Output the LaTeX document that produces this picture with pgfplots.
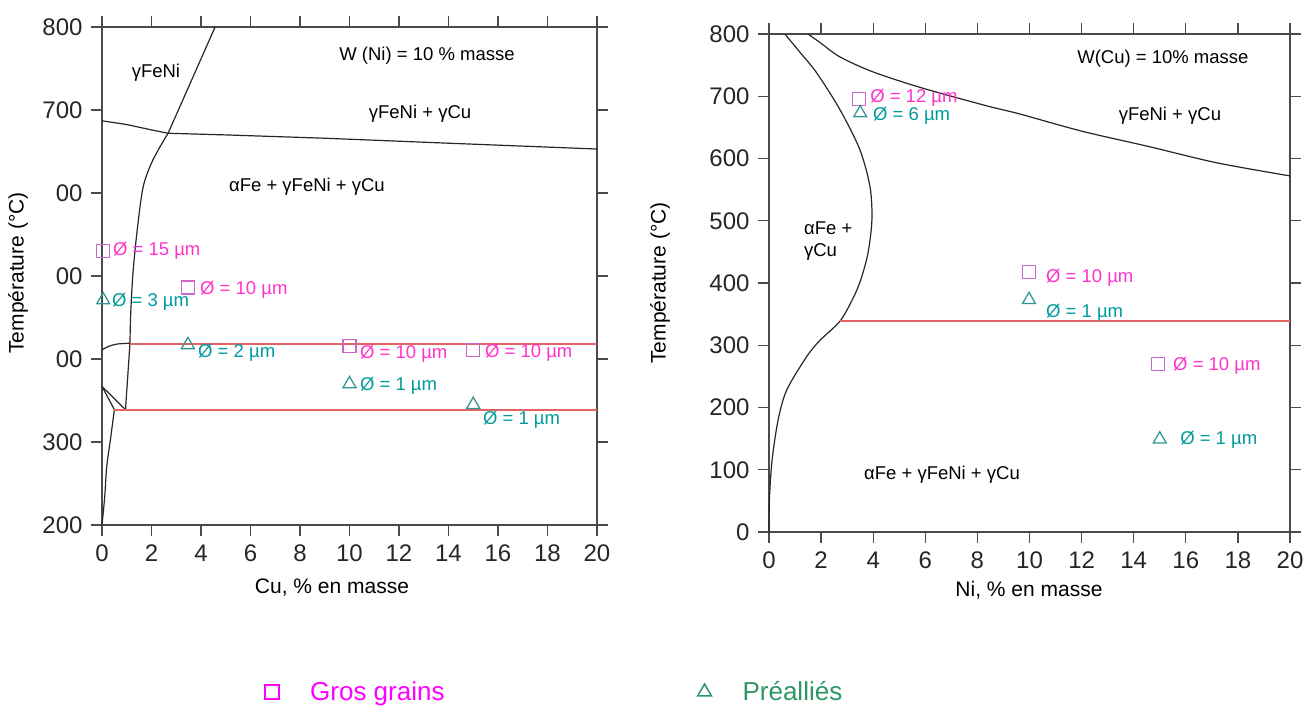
\documentclass[border=0pt]{standalone}
\usepackage{fontspec}
\setmainfont{Liberation Sans}
\usepackage{pgfplots}
\pgfplotsset{compat=1.18}
\definecolor{magtext}{RGB}{255,51,204}
\definecolor{tealtext}{RGB}{0,155,155}
\definecolor{sqmark}{RGB}{204,102,204}
\definecolor{trimark}{RGB}{51,150,150}
\definecolor{legmag}{RGB}{255,0,255}
\definecolor{leggreen}{RGB}{46,150,100}
\definecolor{redline}{RGB}{228,100,100}
\definecolor{axiscol}{RGB}{75,75,75}
\newcommand{\ann}{\fontsize{18.5}{22}\selectfont}
\pgfplotsset{
  mystyle/.style={
    scale only axis,
    axis line style={draw=axiscol, line width=1.3pt},
    every tick/.style={draw=axiscol, line width=1.3pt},
    tick align=outside,
    major tick length=11pt,
    tick pos=both,
    xticklabel pos=lower, yticklabel pos=left,
    tick label style={font=\fontsize{24}{28}\selectfont, text=black!85},
    yticklabel style={xshift=-5pt},
    xticklabel style={yshift=-5pt},
    label style={font=\fontsize{21}{25}\selectfont},
    /pgf/number format/assume math mode=true,
    clip=false,
    xmin=0, xmax=20, xtick={0,2,...,20},
  },
  bnd/.style={black!85, line width=1.2pt, forget plot},
  red/.style={redline, line width=2pt, forget plot},
  sq/.style={only marks, mark=square, mark size=6.5pt, color=sqmark, line width=1.3pt, forget plot},
  tri/.style={only marks, mark=triangle, mark size=7.5pt, color=trimark, line width=1.3pt, forget plot},
}
\begin{document}
\begin{tikzpicture}
\useasboundingbox (0,0) rectangle (1315pt,-707pt);
% ---------------- left axis ----------------
\begin{axis}[mystyle,
  at={(102pt,-525pt)}, anchor=south west,
  width=495pt, height=498pt,
  ymin=200, ymax=800, ytick={200,300,...,800},
  yticklabels={200,300,00,00,00,700,800},
  xlabel={Cu, \% en masse},
  ylabel={Température (°C)},
  xlabel style={at={(axis description cs:0.4646,-0.1265)}, anchor=center},
  ylabel style={at={(axis description cs:-0.1697,0.506)}, anchor=center},
  legend style={at={(axis description cs:0.3293,-0.3353)}, anchor=west,
    draw=none, fill=none, inner sep=0pt, legend columns=2,
    font=\fontsize{26}{30}\selectfont,
    nodes={inner sep=0pt},
    /tikz/every odd column/.append style={column sep=31pt},
    /tikz/every even column/.append style={column sep=253pt}},
  legend image code/.code={\path[draw=none, fill=none] (0pt,-7pt) rectangle (14pt,7pt);
    \draw[#1] plot coordinates {(7pt,0pt)};},
]
\addplot[bnd] coordinates {(0,687)(1,682.5)(2,676)(2.67,672)(5,670)(9,666)(14,660)(20,653)};
\addplot[bnd] coordinates {(4.57,800)(2.67,672)};
\addplot[bnd, smooth] coordinates {(2.67,672)(2.06,640)(1.66,607)(1.41,552)(1.25,503)(1.16,455)(1.13,419)};
\addplot[bnd] coordinates {(1.13,419)(0.95,339)};
\addplot[bnd, smooth] coordinates {(0,411)(0.25,415)(0.6,418)(1.13,419)};
\addplot[bnd] coordinates {(0,367)(0.95,339)};
\addplot[bnd] coordinates {(0,367)(0.5,339)};
\addplot[bnd, smooth] coordinates {(0,200)(0.11,234)(0.19,270)(0.35,305)(0.5,339)};
\addplot[red] coordinates {(1.13,418)(20,418)};
\addplot[red] coordinates {(0.5,339)(20,339)};
\addplot[sq] coordinates {(0.05,530)(3.47,486)(10,416)(15,411)};
\addplot[tri] coordinates {(0.05,471)(3.47,417)(10,370)(15,345)};
\begin{scope}[every node/.style={font=\ann, inner sep=0pt}]
\node[text=magtext, anchor=west] at (axis cs:0.44,530) {Ø = 15 µm};
\node[text=magtext, anchor=west] at (axis cs:3.96,483) {Ø = 10 µm};
\node[text=tealtext, anchor=west] at (axis cs:0.40,469) {Ø = 3 µm};
\node[text=tealtext, anchor=west] at (axis cs:3.88,407) {Ø = 2 µm};
\node[text=magtext, anchor=west] at (axis cs:10.42,406) {Ø = 10 µm};
\node[text=magtext, anchor=west] at (axis cs:15.47,408) {Ø = 10 µm};
\node[text=tealtext, anchor=west] at (axis cs:10.42,367.5) {Ø = 1 µm};
\node[text=tealtext, anchor=west] at (axis cs:15.39,326.5) {Ø = 1 µm};
\node at (axis cs:2.18,744.6) {γFeNi};
\node at (axis cs:13.13,766) {W (Ni) = 10 \% masse};
\node at (axis cs:12.85,696) {γFeNi + γCu};
\node at (axis cs:8.28,607) {αFe + γFeNi + γCu};
\end{scope}
\addlegendimage{only marks, mark=square, mark size=7pt, color=legmag, line width=1.5pt}
\addlegendentry{\textcolor{legmag}{Gros grains}}
\addlegendimage{only marks, mark=triangle, mark size=8pt, color=leggreen, line width=1.5pt}
\addlegendentry{\textcolor{leggreen}{Préalliés}}
\end{axis}
% ---------------- right axis ----------------
\begin{axis}[mystyle,
  at={(769pt,-532pt)}, anchor=south west,
  width=521pt, height=498pt,
  ymin=0, ymax=800, ytick={0,100,...,800},
  xlabel={Ni, \% en masse},
  ylabel={Température (°C)},
  xlabel style={at={(axis description cs:0.499,-0.1165)}, anchor=center},
  ylabel style={at={(axis description cs:-0.2092,0.5)}, anchor=center},
]
\addplot[bnd, smooth] coordinates {(1.5,800)(2,785)(2.73,763)(4,739)(5.9,713)(8.5,683)(9.5,673)(12,644)(14.6,619)(17.2,593)(20,572)};
\addplot[bnd, smooth] coordinates {(0.61,800)(1.2,770)(1.84,737)(2.73,678)(3.49,614)(3.88,554)(3.95,501)(3.8,448)(3.52,405)(3.22,375)(2.73,339)(1.96,308)(1.45,282)(0.68,228)(0.35,180)(0.12,116)(0.02,56)(0,0)};
\addplot[red] coordinates {(2.73,339)(20,339)};
\addplot[sq] coordinates {(3.45,696)(9.98,418)(14.93,270)};
\addplot[tri] coordinates {(3.5,673)(9.98,373)(15,149)};
\begin{scope}[every node/.style={font=\ann, inner sep=0pt}]
\node[text=magtext, anchor=west] at (axis cs:3.88,697) {Ø = 12 µm};
\node[text=tealtext, anchor=west] at (axis cs:3.99,668) {Ø = 6 µm};
\node[text=magtext, anchor=west] at (axis cs:10.63,408) {Ø = 10 µm};
\node[text=tealtext, anchor=west] at (axis cs:10.63,352) {Ø = 1 µm};
\node[text=magtext, anchor=west] at (axis cs:15.51,267) {Ø = 10 µm};
\node[text=tealtext, anchor=west] at (axis cs:15.78,148) {Ø = 1 µm};
\node at (axis cs:15.12,761) {W(Cu) = 10\% masse};
\node at (axis cs:15.39,668) {γFeNi + γCu};
\node[anchor=west, align=left] at (axis cs:1.34,467) {αFe +\\γCu};
\node at (axis cs:6.64,91.5) {αFe + γFeNi + γCu};
\end{scope}
\end{axis}
\end{tikzpicture}
\end{document}
